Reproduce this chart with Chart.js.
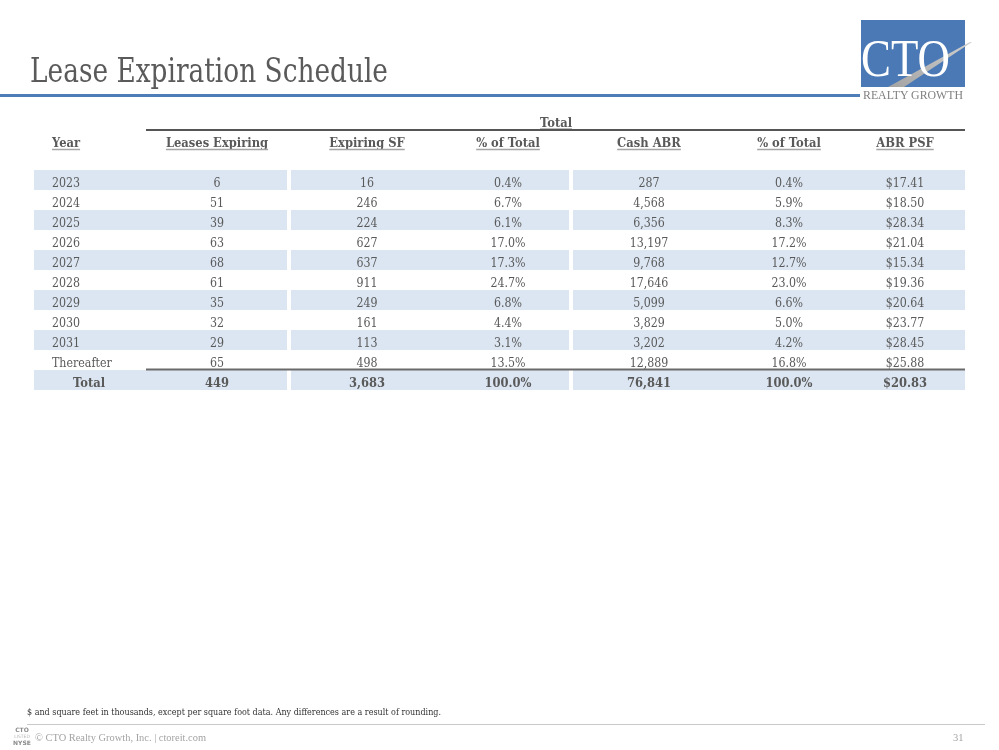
<!DOCTYPE html>
<html>
<head>
<meta charset="utf-8">
<script src="https://cdn.jsdelivr.net/npm/chart.js@4"></script>
<style>
  html, body { margin: 0; padding: 0; background: #fff; }
  #page { position: relative; width: 999px; height: 750px; overflow: hidden; background: #fff; }
  #chart { position: absolute; left: 0; top: 0; }
  .abs { position: absolute; white-space: nowrap; }
  #title { left: 30px; top: 54px; font-family: "DejaVu Serif"; font-size: 33px; line-height: 33px; color: #5a5a5a; transform-origin: 0 0; }
  #rule { left: 0; top: 93.5px; width: 860px; height: 3px; background: #4f7db8; }
  #foot-note { left: 27px; top: 707.5px; font-family: "DejaVu Serif"; font-size: 9px; line-height: 9px; color: #333; transform-origin: 0 0; }
  #foot-rule { left: 27px; top: 723.5px; width: 958px; height: 1.5px; background: #c9c9c9; }
  #foot-text { left: 35px; top: 732px; font-family: "Liberation Serif"; font-size: 10.5px; line-height: 11px; color: #a3a3a3; transform-origin: 0 0; }
  #page-num { left: 953px; top: 732px; font-family: "Liberation Serif"; font-size: 10.5px; line-height: 11px; color: #a3a3a3; }
  .nyse { font-family: "DejaVu Sans"; color: #8a8a8a; font-size: 6px; line-height: 6px; text-align: center; width: 20px; left: 12px; }
</style>
</head>
<body>
<div id="page">
  <canvas id="chart" width="999" height="750"></canvas>

  <div id="title" class="abs">Lease Expiration Schedule</div>
  <div id="rule" class="abs"></div>

  <svg class="abs" style="left:850px;top:10px" width="149" height="100">
    <defs>
      <linearGradient id="sw" x1="0" y1="1" x2="1" y2="0">
        <stop offset="0" stop-color="#a3a3a3"/>
        <stop offset="1" stop-color="#cfcfcf"/>
      </linearGradient>
    </defs>
    <rect x="11" y="10" width="104" height="67" fill="#4a79b6"/>
    <polygon points="38,77 54,77 122,32 120,32" fill="url(#sw)"/>
    <text x="11" y="66" font-family="Liberation Serif" font-size="52" fill="#ffffff" textLength="89" lengthAdjust="spacingAndGlyphs">CTO</text>
    <text x="13" y="89.3" font-family="Liberation Serif" font-size="11.5" fill="#7f7f7f" textLength="100" lengthAdjust="spacingAndGlyphs">REALTY GROWTH</text>
  </svg>

  <div id="foot-note" class="abs">$ and square feet in thousands, except per square foot data. Any differences are a result of rounding.</div>
  <div id="foot-rule" class="abs"></div>
  <div class="abs nyse" style="top:727px;font-weight:bold">CTO</div>
  <div class="abs nyse" style="top:733.5px;font-size:4.5px;color:#b5b5b5">LISTED</div>
  <div class="abs nyse" style="top:740px;font-weight:bold">NYSE</div>
  <div id="foot-text" class="abs">© CTO Realty Growth, Inc. | ctoreit.com</div>
  <div id="page-num" class="abs">31</div>
</div>

<script>
// ---------------- DATA ----------------
const groupHeader = 'Total';
const columnHeaders = ['Year', 'Leases Expiring', 'Expiring SF', '% of Total', 'Cash ABR', '% of Total', 'ABR PSF'];
const years = ['2023', '2024', '2025', '2026', '2027', '2028', '2029', '2030', '2031', 'Thereafter'];
const leasesExpiring = [6, 51, 39, 63, 68, 61, 35, 32, 29, 65];
const expiringSF = [16, 246, 224, 627, 637, 911, 249, 161, 113, 498];
const pctOfTotalSF = [0.4, 6.7, 6.1, 17.0, 17.3, 24.7, 6.8, 4.4, 3.1, 13.5];
const cashABR = [287, 4568, 6356, 13197, 9768, 17646, 5099, 3829, 3202, 12889];
const pctOfTotalABR = [0.4, 5.9, 8.3, 17.2, 12.7, 23.0, 6.6, 5.0, 4.2, 16.8];
const abrPSF = [17.41, 18.50, 28.34, 21.04, 15.34, 19.36, 20.64, 23.77, 28.45, 25.88];
const totalLabel = 'Total';
const totalRow = [449, 3683, 100.0, 76841, 100.0, 20.83];

// ---------------- LAYOUT (table units along the x scale) ----------------
const TABLE_W = 931;
const colAnchor = [18, 183, 333, 474, 615, 755, 871];   // Year is left-aligned, others centred
const totalLabelAnchor = 55;
const groupAnchor = 522;
const ruleFrom = 112, ruleTo = 931;
const bands = [[0, 253], [257, 535], [539, 931]];
const shade = '#dce6f2';
const ink = '#595959';

// rows of the category scale
const rowKeys = ['group', 'header', 'gap'].concat(years, [totalLabel]);
const FIRST_DATA = 3;
const isShaded = i => i >= FIRST_DATA && (i - FIRST_DATA) % 2 === 0;

const fmtInt = v => v.toLocaleString('en-US');
const fmtPct = v => v.toFixed(1) + '%';
const fmtUsd = v => '$' + v.toFixed(2);

const bodyRows = years.map((y, i) => [
  y, fmtInt(leasesExpiring[i]), fmtInt(expiringSF[i]), fmtPct(pctOfTotalSF[i]),
  fmtInt(cashABR[i]), fmtPct(pctOfTotalABR[i]), fmtUsd(abrPSF[i])
]);
const totalCells = [totalLabel, fmtInt(totalRow[0]), fmtInt(totalRow[1]), fmtPct(totalRow[2]),
  fmtInt(totalRow[3]), fmtPct(totalRow[4]), fmtUsd(totalRow[5])];

const datasets = bands.map((b, k) => ({
  label: 'band' + k,
  data: rowKeys.map((r, i) => isShaded(i) ? b : null),
  backgroundColor: shade,
  borderWidth: 0,
  borderSkipped: false,
  barPercentage: 1,
  categoryPercentage: 1,
  grouped: false,
  inflateAmount: 0
}));

function drawText(ctx, s, x, y, align, font, color, sx, underline) {
  ctx.save();
  ctx.font = font;
  const w = ctx.measureText(s).width * sx;
  const left = align === 'left' ? x : (align === 'center' ? x - w / 2 : x - w);
  ctx.translate(left, y);
  ctx.scale(sx, 1);
  ctx.fillStyle = color;
  ctx.textAlign = 'left';
  ctx.textBaseline = 'alphabetic';
  ctx.fillText(s, 0, 0);
  ctx.restore();
  if (underline) {
    ctx.save();
    ctx.strokeStyle = '#a5a5a5';
    ctx.lineWidth = 1.5;
    ctx.beginPath();
    ctx.moveTo(left, y + 2.5);
    ctx.lineTo(left + w, y + 2.5);
    ctx.stroke();
    ctx.restore();
  }
}

const tablePlugin = {
  id: 'tableText',
  afterDatasetsDraw(chart) {
    const ctx = chart.ctx;
    const xs = chart.scales.x, ys = chart.scales.y;
    const rowH = ys.getPixelForValue(1) - ys.getPixelForValue(0);
    const base = i => ys.getPixelForValue(i) + 6.5;
    const X = v => xs.getPixelForValue(v);
    const reg = '12px "DejaVu Serif"';
    const bold = 'bold 12px "DejaVu Serif"';
    const SX = 0.92, SXB = 0.96;

    // group header
    drawText(ctx, groupHeader, X(groupAnchor), base(0), 'center', bold, ink, SXB, true);
    // rule under group header
    ctx.save();
    ctx.strokeStyle = '#555555';
    ctx.lineWidth = 2;
    let yRule = ys.getPixelForValue(0) + rowH / 2;
    ctx.beginPath(); ctx.moveTo(X(ruleFrom), yRule); ctx.lineTo(X(ruleTo), yRule); ctx.stroke();
    ctx.restore();

    // column headers
    columnHeaders.forEach((h, j) => {
      drawText(ctx, h, X(colAnchor[j]), base(1) + 0.5, j === 0 ? 'left' : 'center', bold, ink, SXB, true);
    });

    // body
    bodyRows.forEach((row, r) => {
      const yi = FIRST_DATA + r;
      row.forEach((cell, j) => {
        drawText(ctx, cell, X(colAnchor[j]), base(yi), j === 0 ? 'left' : 'center', reg, ink, SX, false);
      });
    });

    // total row
    const ti = FIRST_DATA + bodyRows.length;
    ctx.save();
    ctx.strokeStyle = '#6a6a6a';
    ctx.lineWidth = 2;
    yRule = ys.getPixelForValue(ti) - rowH / 2 - 0.5;
    ctx.beginPath(); ctx.moveTo(X(ruleFrom), yRule); ctx.lineTo(X(ruleTo), yRule); ctx.stroke();
    ctx.restore();
    totalCells.forEach((cell, j) => {
      const x = j === 0 ? X(totalLabelAnchor) : X(colAnchor[j]);
      drawText(ctx, cell, x, base(ti), 'center', bold, ink, SXB, false);
    });
  }
};

new Chart(document.getElementById('chart'), {
  type: 'bar',
  data: { labels: rowKeys, datasets },
  options: {
    indexAxis: 'y',
    responsive: false,
    animation: false,
    events: [],
    layout: { padding: { left: 34, right: 34, top: 110, bottom: 360 } },
    plugins: { legend: { display: false }, tooltip: { enabled: false }, title: { display: false } },
    scales: {
      x: { type: 'linear', min: 0, max: TABLE_W, display: false },
      y: { type: 'category', display: false, offset: true, stacked: false }
    }
  },
  plugins: [tablePlugin]
});

// fit a few HTML text lines to their reference widths
function fitWidth(id, target) {
  const el = document.getElementById(id);
  const w = el.getBoundingClientRect().width;
  if (w > 0) el.style.transform = 'scaleX(' + (target / w) + ')';
}
fitWidth('title', 358);
fitWidth('foot-note', 414);
fitWidth('foot-text', 171);
</script>
</body>
</html>
